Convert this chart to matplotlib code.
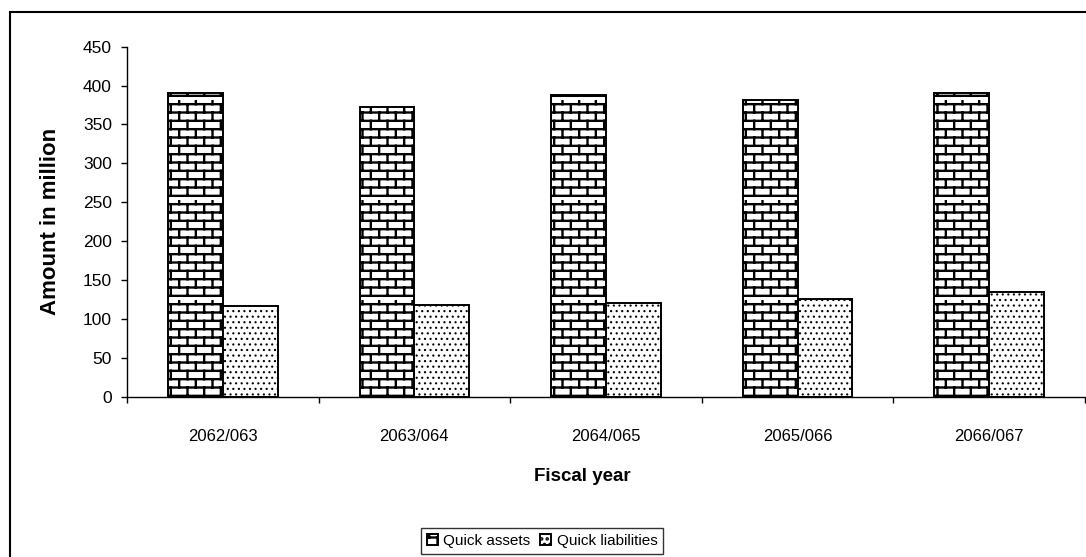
import warnings
import numpy as np
import matplotlib
matplotlib.use('Agg')
from matplotlib import pyplot as plt
from matplotlib import hatch as mhatch
from matplotlib.path import Path
from matplotlib.patches import Rectangle

warnings.filterwarnings('ignore')

years = ['2062/063', '2063/064', '2064/065', '2065/066', '2066/067']
quick_assets = [391, 373, 388, 381, 391]
quick_liabilities = [116, 118, 120, 126, 134]
series_names = ['Quick assets', 'Quick liabilities']
y_ticks = list(range(0, 451, 50))


# brick wall fill, used with the 'b' hatch character
class BrickHatch(mhatch.HatchPatternBase):
    rows, cols = 12, 6

    def __init__(self, hatch, density):
        self.num_vertices = 0
        if hatch.count('b'):
            self.num_vertices = (self.rows + self.rows * self.cols) * 2

    def set_vertices_and_codes(self, vertices, codes):
        segs = []
        for k in range(self.rows):
            y0 = (k + 0.5) / self.rows
            y1 = (k + 1.5) / self.rows
            segs.append(((0.0, y0), (1.0, y0)))
            shift = 0.5 * (k % 2)
            for j in range(self.cols):
                x = (j + 0.25 + shift) / self.cols
                segs.append(((x, y0), (x, y1)))
        vertices[:] = np.array(segs, dtype=float).reshape(-1, 2)
        codes[0::2] = Path.MOVETO
        codes[1::2] = Path.LINETO


mhatch._hatch_types.append(BrickHatch)

plt.rcParams['font.family'] = ['Liberation Sans', 'DejaVu Sans']
plt.rcParams['hatch.linewidth'] = 1.7

fig = plt.figure(figsize=(10.86, 5.57), dpi=100)
ax = fig.add_axes([0.1169, 0.2878, 0.8822, 0.6284])

x = np.arange(len(years))
w = 1 / 3.5
b1 = ax.bar(x - w / 2, quick_assets, w, color='white', edgecolor='black',
            linewidth=1.4, hatch='b', label=series_names[0])
b2 = ax.bar(x + w / 2, quick_liabilities, w, color='white', edgecolor='black',
            linewidth=1.4, hatch='...', label=series_names[1])
# finer dots for the liabilities fill
for p in b2:
    if hasattr(p, 'set_hatch_linewidth'):
        p.set_hatch_linewidth(0.8)

ax.set_xlim(-0.5, len(years) - 0.5)
ax.set_ylim(0, 450)
ax.set_yticks(y_ticks)
ax.set_xticks(x)
ax.set_xticklabels(years)
ax.set_xticks(np.arange(len(years) + 1) - 0.5, minor=True)

for s in ['top', 'right']:
    ax.spines[s].set_visible(False)
for s in ['left', 'bottom']:
    ax.spines[s].set_linewidth(1.0)

ax.tick_params(axis='y', direction='out', length=4.3, width=1.0, pad=6.5, labelsize=12.5)
ax.tick_params(axis='x', which='major', length=0, pad=23, labelsize=12)
ax.tick_params(axis='x', which='minor', direction='out', length=4.3, width=1.0)

ax.set_ylabel('Amount in million', fontsize=16, fontweight='bold', labelpad=16)
ax.set_xlabel('Fiscal year', fontsize=13.5, fontweight='bold')
ax.xaxis.set_label_coords((582 - 127) / 958, -0.205)

leg = fig.legend(loc='center', bbox_to_anchor=(542 / 1086, 1 - 541 / 557),
                 ncol=2, fontsize=11, fancybox=False, frameon=True,
                 handlelength=0.75, handleheight=0.75, handletextpad=0.35,
                 columnspacing=0.6, borderpad=0.4, borderaxespad=0)
leg.get_frame().set_edgecolor('black')
leg.get_frame().set_linewidth(1.0)

# outer chart-area border
fig.add_artist(Rectangle((10 / 1086, -0.1), 1.2, 1.1 - 12 / 557,
                         transform=fig.transFigure, fill=False,
                         edgecolor='black', linewidth=1.5, clip_on=False))

fig.savefig('out.png', dpi=100)
